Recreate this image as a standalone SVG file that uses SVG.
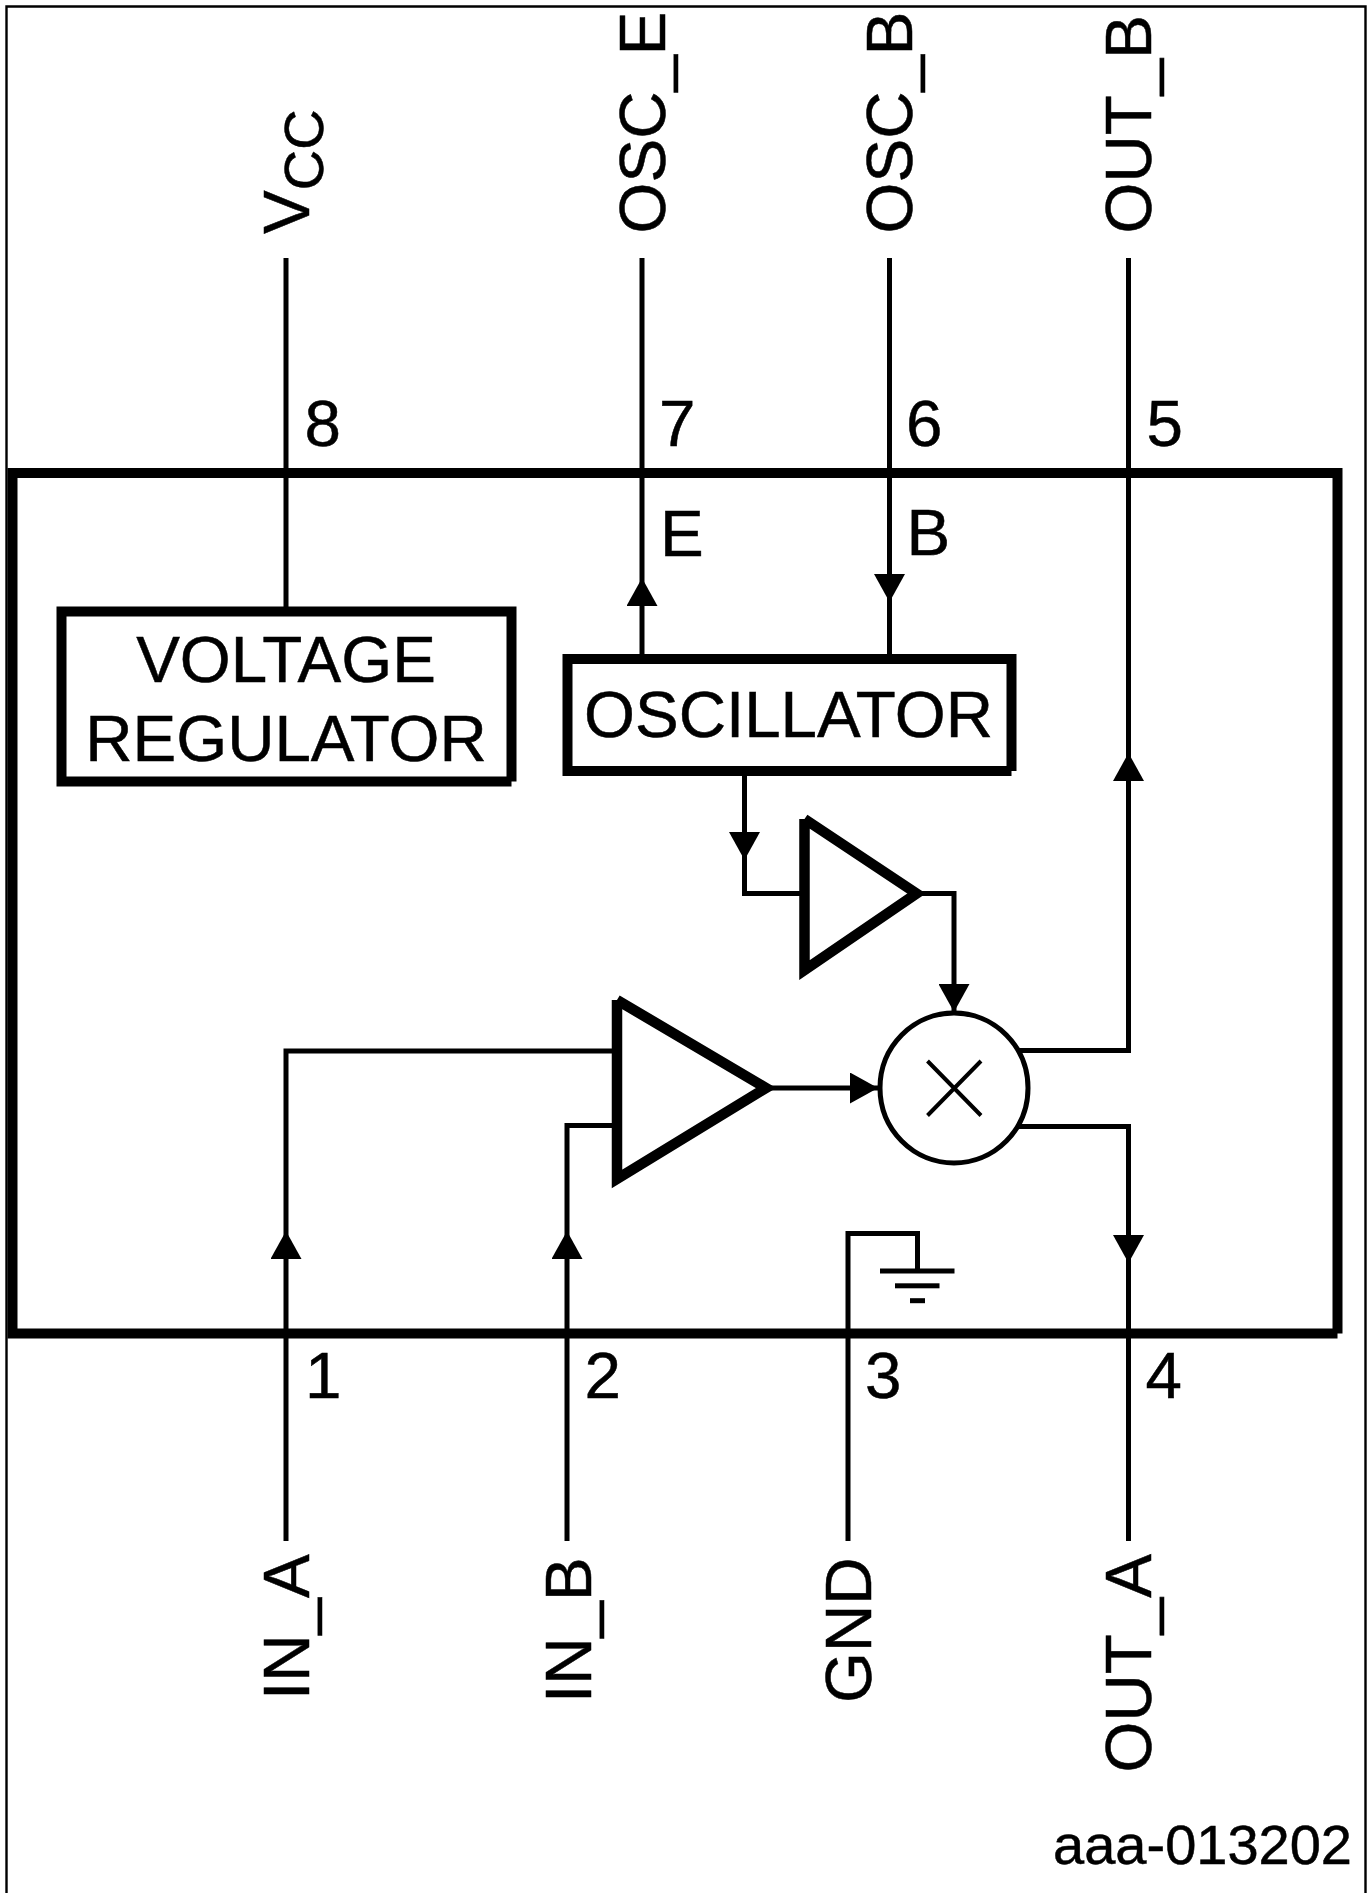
<svg xmlns="http://www.w3.org/2000/svg" width="1367" height="1893" viewBox="0 0 1367 1893">
<style>
text{font-family:"Liberation Sans",Arial,sans-serif;font-size:65.5px;fill:#000;stroke:#000;stroke-width:.5}
.thick{fill:#fff;stroke:#000;stroke-width:10;stroke-miterlimit:10}
.tri{fill:#fff;stroke:#000;stroke-width:10.5;stroke-miterlimit:10}
.frame{fill:none;stroke:#000;stroke-width:10}
.wire{fill:none;stroke:#000;stroke-width:5;stroke-miterlimit:10;stroke-linecap:butt}
.arw{marker-end:url(#ah)}
.mid{text-anchor:middle}
</style>
<defs>
<marker id="ah" markerUnits="userSpaceOnUse" markerWidth="28" markerHeight="31" refX="28" refY="15.5" orient="auto"><path d="M0,0L28,15.5L0,31Z" fill="#000"/></marker>
</defs>
<rect width="1367" height="1893" fill="#fff"/>
<path id="page-border" d="M6.5,1893V6.5H1365.5V1893" fill="none" stroke="#000" stroke-width="2.4"/>
<g id="connectors">
<path class="wire" d="M286,258V608"/>
<path class="wire" d="M642,258V578"/>
<path class="wire arw" d="M642,655V578"/>
<path class="wire arw" d="M889.5,258V602"/>
<path class="wire" d="M889.5,602V655"/>
<path class="wire" d="M1128.5,258V754"/>
<path class="wire arw" d="M1019,1050.5H1128.5V753"/>
<path class="wire arw" d="M1019,1126.5H1128.5V1263"/>
<path class="wire" d="M1128.5,1263V1541"/>
<path class="wire arw" d="M744.5,770V860"/>
<path class="wire" d="M744.5,860V893.5H800"/>
<path class="wire arw" d="M920,893.5H954V1012"/>
<path class="wire arw" d="M770,1088H878"/>
<path class="wire arw" d="M286,1541V1231"/>
<path class="wire" d="M286,1231V1051H612"/>
<path class="wire arw" d="M567,1541V1231"/>
<path class="wire" d="M567,1231V1125.5H612"/>
<path class="wire" d="M848,1541V1233.5H917.5V1271"/>
</g>
<g id="chip"><path class="frame" d="M1337.5,1333.5V473H12.5V1333.5H1337.5"/></g>
<g id="voltage-regulator">
<path class="thick" d="M511.5,781.5V611.5H61.5V781.5H511.5"/>
<text class="mid" x="286" y="682">VOLTAGE</text>
<text class="mid" x="286" y="761">REGULATOR</text>
</g>
<g id="oscillator">
<path class="thick" d="M1011.5,771V659H567.5V771H1011.5"/>
<text class="mid" x="788.5" y="737">OSCILLATOR</text>
</g>
<g id="amp-osc"><path class="tri" d="M804.5,819L916.5,893.5L804.5,970V819"/></g>
<g id="amp-in"><path class="tri" d="M617,1000L766,1088L617,1179V1000"/></g>
<g id="mixer">
<ellipse cx="954" cy="1088" rx="74" ry="75" fill="#fff" stroke="#000" stroke-width="5"/>
<path d="M927.5,1061L981,1115.5M981,1061L927.5,1115.5" fill="none" stroke="#000" stroke-width="4"/>
</g>
<g id="ground" fill="#000">
<rect x="880" y="1268.5" width="74.5" height="5"/>
<rect x="895" y="1283.3" width="44.5" height="5"/>
<rect x="910" y="1298.2" width="15" height="5"/>
</g>
<g id="pin-numbers">
<text x="304.5" y="446">8</text><text x="659" y="446">7</text><text x="906" y="446">6</text><text x="1146.5" y="446">5</text>
<text x="305" y="1398">1</text><text x="584.5" y="1398">2</text><text x="865" y="1398">3</text><text x="1145.5" y="1398">4</text>
<text x="660" y="556">E</text><text x="906.5" y="555">B</text>
</g>
<g id="pin-names">
<text transform="translate(309,234) rotate(-90)">V<tspan dy="14" style="font-size:56px">CC</tspan></text>
<text transform="translate(664.5,233.5) rotate(-90)">OSC_E</text>
<text transform="translate(912,233.5) rotate(-90)">OSC_B</text>
<text transform="translate(1151,233.5) rotate(-90)">OUT_B</text>
<text transform="translate(309,1700) rotate(-90)">IN_A</text>
<text transform="translate(591,1703) rotate(-90)">IN_B</text>
<text transform="translate(870.5,1703) rotate(-90)">GND</text>
<text transform="translate(1151,1772.5) rotate(-90)">OUT_A</text>
</g>
<text id="figure-id" x="1352" y="1864" text-anchor="end" style="font-size:56px">aaa-013202</text>
</svg>
